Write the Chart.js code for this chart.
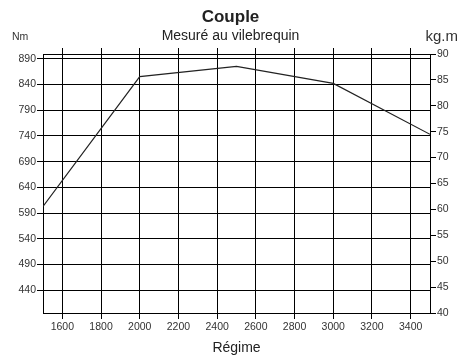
<!DOCTYPE html>
<html>
<head>
<meta charset="utf-8">
<script src="https://cdn.jsdelivr.net/npm/chart.js@4/dist/chart.umd.min.js"></script>
<style>
    html, body { margin: 0; padding: 0; background: #fff; }
    .chart-container { width: 461px; height: 363px; }
</style>
</head>
<body>
<div class="chart-container">
    <canvas id="coupleChart"></canvas>
</div>
<script>
// data
const regime = [1500, 2000, 2500, 3000, 3500];
const coupleNm = [603, 855, 875, 842, 743];
const regimeTicks = [1600, 1800, 2000, 2200, 2400, 2600, 2800, 3000, 3200, 3400];
const nmTicks = [440, 490, 540, 590, 640, 690, 740, 790, 840, 890];
const kgmTicks = [40, 45, 50, 55, 60, 65, 70, 75, 80, 85, 90];

const FONT = "'Liberation Sans', Arial, sans-serif";
const INK = '#000';
const TEXT = '#333';

function fixTicks(values) {
    return s => { s.ticks = values.map(v => ({ value: v })); };
}

// unit labels above each y axis
const unitLabels = {
    id: 'unitLabels',
    afterDraw(chart) {
        const ctx = chart.ctx;
        ctx.save();
        ctx.fillStyle = TEXT;
        ctx.textBaseline = 'middle';
        ctx.font = `10.5px ${FONT}`;
        ctx.textAlign = 'left';
        ctx.fillText('Nm', 12, 37);
        ctx.font = `15px ${FONT}`;
        ctx.textAlign = 'right';
        ctx.fillText('kg.m', 458, 37);
        ctx.restore();
    }
};

const ctx = document.getElementById('coupleChart').getContext('2d');
const coupleChart = new Chart(ctx, {
    type: 'line',
    data: {
        datasets: [{
            data: regime.map((x, i) => ({ x: x, y: coupleNm[i] })),
            borderColor: '#222',
            borderWidth: 1.2,
            pointRadius: 0,
            tension: 0,
            yAxisID: 'y'
        }]
    },
    options: {
        responsive: true,
        maintainAspectRatio: false,
        devicePixelRatio: 1,
        animation: false,
        layout: { padding: 0 },
        plugins: {
            legend: { display: false },
            tooltip: { enabled: false },
            title: {
                display: true,
                text: 'Couple',
                color: '#222',
                font: { family: FONT, size: 17, weight: 'bold' },
                padding: { top: 7, bottom: 0 }
            },
            subtitle: {
                display: true,
                text: 'Mesuré au vilebrequin',
                color: '#222',
                font: { family: FONT, size: 14 },
                padding: { top: 0, bottom: 3.8 }
            }
        },
        scales: {
            x: {
                type: 'linear',
                position: 'bottom',
                min: 1500,
                max: 3500,
                afterBuildTicks: fixTicks(regimeTicks),
                afterFit: s => { s.height = 50; },
                grid: { color: INK, lineWidth: 1, tickLength: 6 },
                border: { display: true, color: INK, width: 1 },
                ticks: {
                    color: TEXT,
                    padding: 2,
                    maxRotation: 0,
                    font: { family: FONT, size: 10.5 },
                    callback: v => String(v)
                },
                title: {
                    display: true,
                    text: 'Régime',
                    color: '#222',
                    font: { family: FONT, size: 14 },
                    padding: { top: 2, bottom: 6 }
                }
            },
            xTop: {
                type: 'linear',
                position: 'top',
                min: 1500,
                max: 3500,
                afterBuildTicks: fixTicks(regimeTicks),
                afterFit: s => { s.height = 6; },
                grid: { color: INK, lineWidth: 1, tickLength: 6, drawOnChartArea: false },
                border: { display: true, color: INK, width: 1 },
                ticks: { display: false }
            },
            y: {
                position: 'left',
                min: 396,
                max: 899,
                afterBuildTicks: fixTicks(nmTicks),
                afterFit: s => { s.width = 43; },
                grid: { color: INK, lineWidth: 1, tickLength: 6 },
                border: { display: true, color: INK, width: 1 },
                ticks: {
                    color: TEXT,
                    padding: 1,
                    font: { family: FONT, size: 10.5 }
                }
            },
            y2: {
                position: 'right',
                min: 40,
                max: 90,
                afterBuildTicks: fixTicks(kgmTicks),
                afterFit: s => { s.width = 31; },
                grid: { color: INK, lineWidth: 1, tickLength: 6, drawOnChartArea: false },
                border: { display: true, color: INK, width: 1 },
                ticks: {
                    color: TEXT,
                    padding: 1,
                    font: { family: FONT, size: 10.5 }
                }
            }
        }
    },
    plugins: [unitLabels]
});
</script>
</body>
</html>
